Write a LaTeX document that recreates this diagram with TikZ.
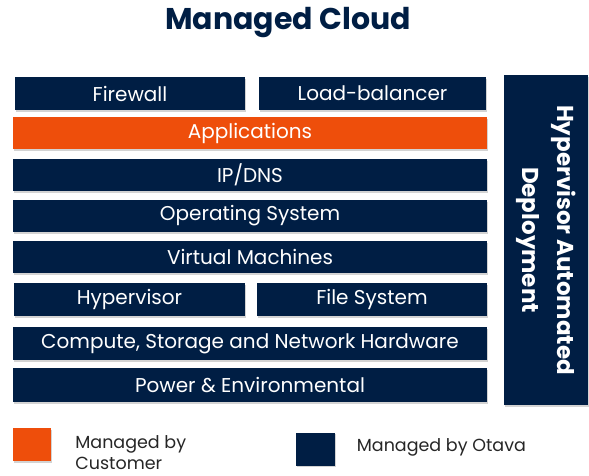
\documentclass[tikz,border=0pt]{standalone}
\usepackage{fontspec}
\setmainfont{Poppins}
\usetikzlibrary{shadows}

\definecolor{otavanavy}{RGB}{0,30,68}
\definecolor{custorange}{RGB}{238,78,11}

\tikzset{every picture/.style={line width=0.75pt}}
\tikzset{
  layerbox/.style={fill=otavanavy, text=white, inner sep=0pt, outer sep=0pt,
    drop shadow={opacity=0.35, shadow xshift=1pt, shadow yshift=-1.5pt},
    font=\fontsize{20}{22}\selectfont},
  custbox/.style={layerbox, fill=custorange},
  legendtext/.style={anchor=west, inner sep=0pt, align=left, text=black!85,
    font=\fontsize{17.5}{21}\selectfont}
}

\begin{document}
\begin{tikzpicture}[x=1pt,y=1pt,yscale=-1,xscale=1]
\useasboundingbox (0,0) rectangle (589,475);

% Title
\node (title) at (288,23) [inner sep=0pt, text=otavanavy, font=\fontsize{30}{32}\selectfont\bfseries] {Managed Cloud};

%Shape: Rectangle [id:firewall]
\node (fw) at (130,93.5) [layerbox, minimum width=230, minimum height=33] {Firewall};
%Shape: Rectangle [id:loadbalancer]
\node (lb) at (372.5,93.5) [layerbox, minimum width=227, minimum height=33] {Load-balancer};
%Shape: Rectangle [id:applications]
\node (app) at (250,133) [custbox, minimum width=474, minimum height=32] {Applications};
%Shape: Rectangle [id:ipdns]
\node (ip) at (250,175) [layerbox, minimum width=474, minimum height=32] {IP/DNS};
%Shape: Rectangle [id:os]
\node (os) at (250,216) [layerbox, minimum width=474, minimum height=32] {Operating System};
%Shape: Rectangle [id:vm]
\node (vm) at (250,257) [layerbox, minimum width=474, minimum height=32] {Virtual Machines};
%Shape: Rectangle [id:hypervisor]
\node (hv) at (129.5,299.5) [layerbox, minimum width=231, minimum height=33] {Hypervisor};
%Shape: Rectangle [id:filesystem]
\node (fs) at (372,299.5) [layerbox, minimum width=230, minimum height=33] {File System};
%Shape: Rectangle [id:hardware]
\node (hw) at (250,343.5) [layerbox, minimum width=474, minimum height=33] {Compute, Storage and Network Hardware};
%Shape: Rectangle [id:power]
\node (pw) at (250,385) [layerbox, minimum width=474, minimum height=34] {Power \& Environmental};

%Shape: Rectangle [id:deployment]
\node (had) at (546,240) [layerbox, minimum width=84, minimum height=330] {};
% Text Node
\node (hadtext) at (had.center) [rotate=-90, text=white, align=center, inner sep=0pt,
  font=\fontsize{23}{35}\selectfont\bfseries] {Hypervisor Automated\\Deployment};

% Legend
\node (custsq) at (31.5,444.5) [custbox, minimum width=38, minimum height=33] {};
\node (custtext) at (75,453) [legendtext] {Managed by\\Customer};
\node (otavasq) at (315.5,449) [layerbox, minimum width=39, minimum height=33] {};
\node (otavatext) at (356.5,447) [legendtext] {Managed by Otava};

\end{tikzpicture}
\end{document}
